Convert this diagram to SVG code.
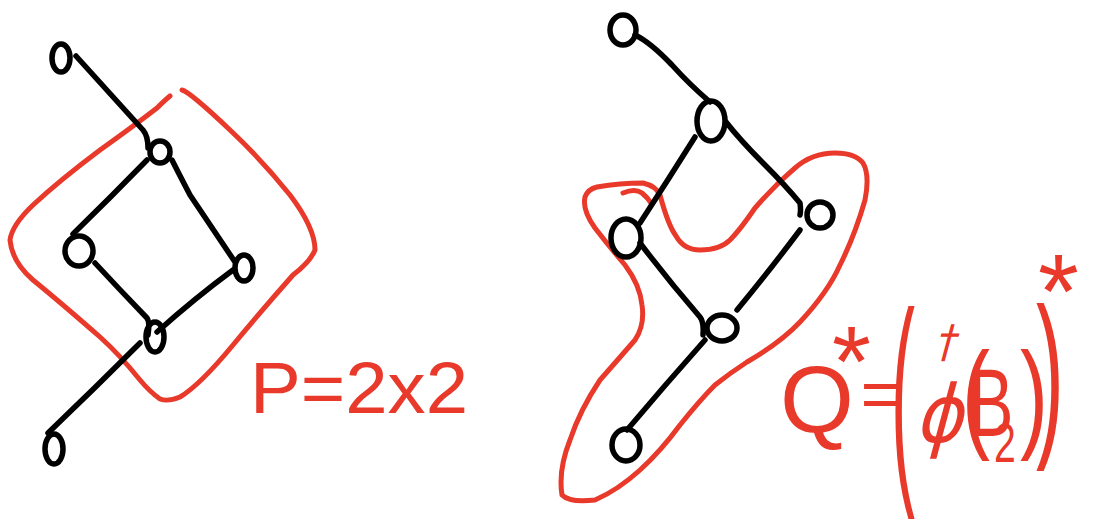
<svg xmlns="http://www.w3.org/2000/svg" width="1118" height="529" viewBox="0 0 1118 529">
<style>
.bg{fill:#fff}
.node{fill:none;stroke:#000;stroke-width:5.5;stroke-linecap:round}
.edge{fill:none;stroke:#000;stroke-width:5.5;stroke-linecap:round;stroke-linejoin:round}
.blob{fill:none;stroke:#e8392a;stroke-width:5;stroke-linecap:round;stroke-linejoin:round}
.t{fill:#e8392a;font-family:"Liberation Sans","DejaVu Sans",sans-serif}
</style>
<rect class="bg" x="0" y="0" width="1118" height="529"/>

<!-- red regions -->
<g id="regionP">
<path class="blob" d="M182,90 Q190,92 230,130 Q262,160 290,195 Q315,228 315,250 Q310,262 293,275 Q262,310 233,345 Q200,385 180,397 Q168,402 160,399 Q150,392 140,380 Q120,355 100,337 Q60,302 33,280 Q12,262 10,240 Q12,225 33,205 Q60,180 100,150 Q135,125 157,108 Q165,100 170,96"/>
</g>
<g id="regionQ">
<path class="blob" d="M597,187 Q620,183 643,183 Q656,186 660,195 Q668,225 676,236 Q684,250 700,250 Q720,250 730,240 Q740,230 755,208 Q775,185 795,168 Q812,153 835,153 Q855,153 863,163 Q870,175 865,200 Q855,235 840,265 Q828,292 800,322 Q780,343 747,362 Q730,373 715,385 Q700,400 680,425 Q660,452 640,470 Q618,490 595,500 Q570,503 562,495 Q558,470 570,440 Q580,410 600,380 Q622,355 635,340 Q645,325 642,305 Q640,285 625,265 Q608,245 595,228 Q582,210 585,197 Q588,189 597,187"/>
<path class="blob" d="M623,193 Q635,188 642,193 Q648,198 651,203"/>
</g>

<!-- connectors -->
<g id="connectors">
<path class="edge" d="M76,56 Q105,88 143,130 Q148,136 148,148"/>
<path class="edge" d="M147,160 Q110,198 73,234"/>
<path class="edge" d="M172,160 Q178,172 190,195 Q212,228 235,262"/>
<path class="edge" d="M95,263 Q120,290 147,318 Q150,322 148,335"/>
<path class="edge" d="M233,270 Q195,298 157,332"/>
<path class="edge" d="M140,343 Q95,388 48,433"/>
<path class="edge" d="M635,35 Q650,42 672,65 Q690,85 710,102"/>
<path class="edge" d="M695,137 Q668,180 640,223"/>
<path class="edge" d="M726,122 Q740,140 765,165 Q785,185 800,203 Q801,210 800,215"/>
<path class="edge" d="M640,243 Q668,280 700,317 Q704,322 703,335"/>
<path class="edge" d="M800,230 Q770,270 737,310"/>
<path class="edge" d="M705,340 Q665,385 627,430"/>
</g>

<!-- nodes -->
<g id="n1"><ellipse class="node" cx="61" cy="58" rx="9" ry="14"/></g>
<g id="n2"><ellipse class="node" cx="160" cy="152" rx="10" ry="11"/></g>
<g id="n3"><ellipse class="node" cx="79" cy="251" rx="14" ry="15"/></g>
<g id="n4"><ellipse class="node" cx="244" cy="268" rx="9" ry="13"/></g>
<g id="n5"><ellipse class="node" cx="155" cy="337" rx="9" ry="15"/></g>
<g id="n6"><ellipse class="node" cx="54" cy="449" rx="9" ry="15"/></g>

<g id="m1"><ellipse class="node" cx="623" cy="30" rx="13" ry="15"/></g>
<g id="m2"><ellipse class="node" cx="711" cy="121" rx="14" ry="20"/></g>
<g id="m3"><ellipse class="node" cx="626" cy="238" rx="15" ry="19"/></g>
<g id="m4"><ellipse class="node" cx="820" cy="215" rx="13" ry="13"/></g>
<g id="m5"><ellipse class="node" cx="722" cy="328" rx="15" ry="13"/></g>
<g id="m6"><ellipse class="node" cx="626" cy="445" rx="14" ry="16"/></g>

<!-- labels -->
<g id="labelP">
<text class="t" x="250" y="413" font-size="72" textLength="218" lengthAdjust="spacingAndGlyphs">P=2x2</text>
</g>
<g id="labelQ">
<text class="t" x="780" y="432" font-size="95">Q<tspan font-size="100" dx="-22" dy="-36">*</tspan><tspan font-size="68" dx="-10" dy="22">=</tspan></text>
<text class="t" transform="translate(891,472) scale(1.2,3.8)" font-size="60">(</text>
<text class="t" transform="translate(914,442) skewX(-15) scale(0.9,1)" font-size="80" style="font-family:'DejaVu Sans',sans-serif">ϕ<tspan x="-3" y="-85" font-size="45">†</tspan></text>
<text class="t" transform="translate(962,436) scale(0.7,1)" font-size="120">(<tspan font-size="97" dx="-31">B</tspan><tspan font-size="56" dx="-28" dy="26">2</tspan><tspan dx="6" dy="-26">)</tspan></text>
<text class="t" transform="translate(1036,434) scale(1.4,3.0)" font-size="60">)</text>
<text class="t" x="1038" y="328" font-size="105">*</text>
</g>
</svg>
